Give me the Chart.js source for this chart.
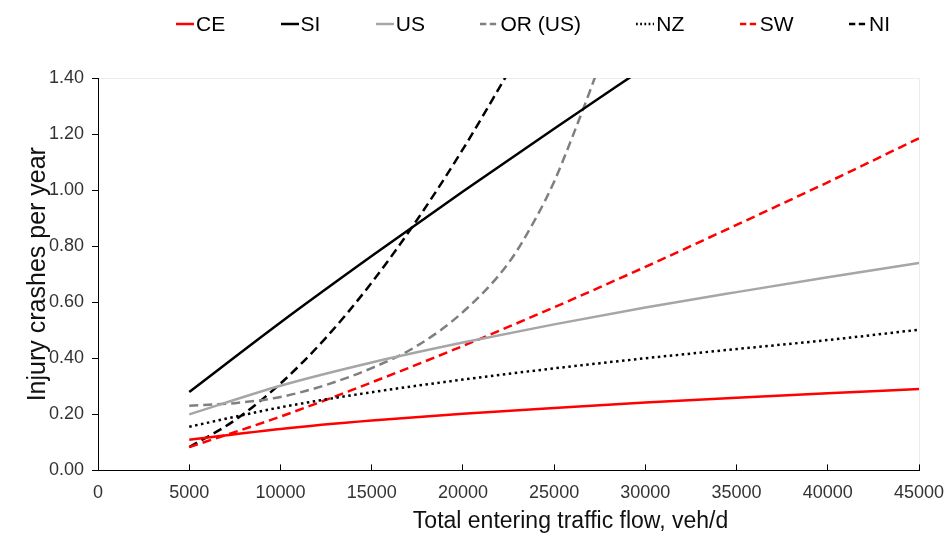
<!DOCTYPE html>
<html>
<head>
<meta charset="utf-8">
<script src="https://cdn.jsdelivr.net/npm/chart.js@4.4.1/dist/chart.umd.min.js"></script>
<style>
  body { margin: 0; background: #fff; }
  #wrap { position: relative; width: 951px; height: 538px; }
  #legend {
    position: absolute; left: 176px; top: 10px; width: 714px; height: 28px;
    display: flex; justify-content: space-between; align-items: center;
    font-family: "Liberation Sans", Arial, sans-serif; font-size: 21px; color: #000;
  }
  #legend .item { display: flex; align-items: center; }
  #legend svg { display: block; margin-right: 2px; }
</style>
</head>
<body>
<div id="wrap">
  <canvas id="crashChart" width="951" height="538"></canvas>
  <div id="legend"></div>
</div>
<script>
// values
const flow = [5000, 10000, 15000, 20000, 25000, 30000, 35000, 40000, 45000]
const ceValues = [0.109, 0.148, 0.178, 0.202, 0.223, 0.242, 0.259, 0.275, 0.290]
const usValues = [0.200, 0.302, 0.385, 0.456, 0.521, 0.581, 0.636, 0.689, 0.740]
const nzValues = [0.156, 0.225, 0.279, 0.324, 0.364, 0.400, 0.433, 0.465, 0.502]
const swValues = [0.083, 0.192, 0.314, 0.444, 0.582, 0.726, 0.876, 1.028, 1.185]
const siFlow = [5000, 10000, 15000, 20000, 25000, 30000]
const siValues = [0.280, 0.528, 0.765, 0.995, 1.219, 1.439]
const niFlow = [5000, 7500, 10000, 12500, 15000, 17500, 20000, 22500]
const niValues = [0.083, 0.179, 0.310, 0.474, 0.670, 0.895, 1.146, 1.421]
const orFlow = [5000, 7500, 10000, 12500, 15000, 17500, 20000, 22500, 24000, 25000, 26000, 27000, 27500]
const orValues = [0.231, 0.240, 0.262, 0.305, 0.365, 0.445, 0.565, 0.740, 0.900, 1.030, 1.190, 1.360, 1.450]

const xTitle = 'Total entering traffic flow, veh/d'
const yTitle = 'Injury crashes per year'

const toPoints = (xs, ys) => xs.map((x, i) => ({ x: x, y: ys[i] }))

const series = [
    { label: 'CE', data: toPoints(flow, ceValues), color: '#ff0000', dash: [] },
    { label: 'SI', data: toPoints(siFlow, siValues), color: '#000000', dash: [] },
    { label: 'US', data: toPoints(flow, usValues), color: '#a6a6a6', dash: [] },
    { label: 'OR (US)', data: toPoints(orFlow, orValues), color: '#7f7f7f', dash: [9, 5] },
    { label: 'NZ', data: toPoints(flow, nzValues), color: '#000000', dash: [2.5, 3.5] },
    { label: 'SW', data: toPoints(flow, swValues), color: '#ff0000', dash: [9, 5] },
    { label: 'NI', data: toPoints(niFlow, niValues), color: '#000000', dash: [9, 5] }
]

Chart.defaults.font.family = '"Liberation Sans", Arial, sans-serif'

const xTitlePlugin = {
    id: 'xTitle',
    afterDraw: (chart) => {
        const { ctx, chartArea } = chart
        ctx.save()
        ctx.font = '23px "Liberation Sans", Arial, sans-serif'
        ctx.fillStyle = '#111'
        ctx.textAlign = 'center'
        ctx.textBaseline = 'middle'
        ctx.fillText(xTitle, (chartArea.left + chartArea.right) / 2 + 62, 522)
        ctx.restore()
    }
}

const crashChart = new Chart(document.getElementById('crashChart'), {
    type: 'line',
    data: {
        datasets: series.map(s => ({
            label: s.label,
            data: s.data,
            borderColor: s.color,
            backgroundColor: s.color,
            borderDash: s.dash,
            borderWidth: 2.5,
            pointRadius: 0,
            cubicInterpolationMode: 'monotone',
            fill: false,
            clip: 0
        }))
    },
    options: {
        responsive: false,
        animation: false,
        layout: { padding: { left: 26, top: 78, right: 0, bottom: 16 } },
        plugins: {
            legend: { display: false },
            tooltip: { enabled: false }
        },
        scales: {
            x: {
                type: 'linear',
                min: 0,
                max: 45000,
                // last label may run past the plot edge like in the original
                afterFit: (scale) => { scale.paddingRight = 32 },
                ticks: {
                    stepSize: 5000,
                    autoSkip: false,
                    maxRotation: 0,
                    color: '#333',
                    font: { size: 18 },
                    padding: 18,
                    callback: (v) => String(v)
                },
                grid: {
                    color: (c) => (c.tick && c.tick.value === 45000 ? '#ececec' : 'rgba(0,0,0,0)'),
                    tickColor: '#000',
                    tickLength: -6
                },
                border: { color: '#000', width: 1 }
            },
            y: {
                min: 0,
                max: 1.4,
                ticks: {
                    stepSize: 0.2,
                    color: '#333',
                    font: { size: 18 },
                    padding: 8,
                    callback: (v) => v.toFixed(2)
                },
                grid: {
                    color: (c) => (c.tick && Math.abs(c.tick.value - 1.4) < 1e-6 ? '#ececec' : 'rgba(0,0,0,0)'),
                    tickColor: '#000',
                    tickLength: 6
                },
                border: { color: '#000', width: 1 },
                title: {
                    display: true,
                    text: yTitle,
                    color: '#111',
                    font: { size: 25, lineHeight: 1 },
                    padding: { top: 0, bottom: -10 }
                }
            }
        }
    },
    plugins: [xTitlePlugin]
})

// legend drawn as html, one entry per dataset
const legendBox = document.getElementById('legend')
series.forEach(s => {
    const item = document.createElement('div')
    item.className = 'item'
    const dash = s.dash.length ? s.dash.map(d => d * 0.7).join(',') : 'none'
    item.innerHTML =
        '<svg width="18" height="6"><line x1="0" y1="3" x2="18" y2="3" stroke="' + s.color +
        '" stroke-width="2.5" stroke-dasharray="' + dash + '"/></svg><span>' + s.label + '</span>'
    legendBox.appendChild(item)
})
</script>
</body>
</html>
